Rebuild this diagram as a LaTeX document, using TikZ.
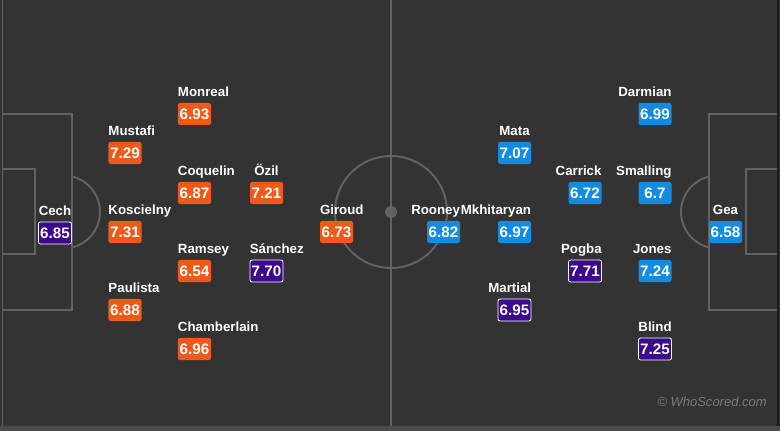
\documentclass[tikz,border=0pt]{standalone}
\usepackage{fontspec}
\usepackage{tikz}
\usetikzlibrary{positioning}
\newfontfamily\wsfont{Liberation Sans}
\definecolor{pitch}{RGB}{51,51,51}
\definecolor{strip}{RGB}{76,76,76}
\definecolor{chalk}{RGB}{98,98,98}
\definecolor{edgedark}{RGB}{28,28,28}
\definecolor{arsorange}{RGB}{240,90,25}
\definecolor{utdblue}{RGB}{18,140,226}
\definecolor{toppurple}{RGB}{60,8,140}
\definecolor{creditgray}{RGB}{122,122,130}
\newcommand{\ratingfont}{\wsfont\bfseries\fontsize{10.8}{12}\selectfont}
\newcommand{\namefont}{\wsfont\bfseries\fontsize{9.45}{11}\selectfont}
\newcommand{\creditfont}{\wsfont\itshape\fontsize{9.25}{11}\selectfont}
\tikzstyle{rating} = [rectangle, rounded corners=1.5pt, minimum width=0.825cm, minimum height=0.55cm, inner sep=0pt, text centered, text=white, font=\ratingfont]
\tikzstyle{ars} = [rating, fill=arsorange]
\tikzstyle{utd} = [rating, fill=utdblue]
\tikzstyle{best} = [rating, fill=toppurple, draw=white, line width=0.6pt]
\tikzstyle{pname} = [inner sep=0pt, text=white, font=\namefont]
\tikzstyle{chalkline} = [draw=chalk, line width=1.4pt]

\begin{document}
\begin{tikzpicture}[x=0.025cm, y=-0.025cm]
\useasboundingbox (0,0) rectangle (780,431);

% pitch
\fill[pitch] (0,0) rectangle (780,431);
\fill[strip] (0,426) rectangle (780,431);
\draw[chalkline] (2.5,0) -- (2.5,426);
\draw[chalkline] (391,0) -- (391,426);
\draw[chalkline] (391,212) circle[radius=1.4cm];
\fill[chalk] (391,212) circle[radius=0.15cm];
\draw[chalkline] (2.5,114) -- (72,114) -- (72,310) -- (2.5,310);
\draw[chalkline] (2.5,169) -- (35,169) -- (35,254) -- (2.5,254);
\draw[chalkline] (72,176.5) arc[start angle=76.5, end angle=-76.5, radius=0.9125cm];
\draw[chalkline] (778,114) -- (709,114) -- (709,310) -- (778,310);
\draw[chalkline] (778,169) -- (746,169) -- (746,254) -- (778,254);
\draw[chalkline] (709,176.5) arc[start angle=103.5, end angle=256.5, radius=0.9125cm];
\draw[edgedark, line width=1.1pt] (778,0) -- (778,426);

% Arsenal
\node(cech)[best] at (55,233) {6.85};
\node(mustafi)[ars] at (125,153) {7.29};
\node(koscielny)[ars] at (125,232) {7.31};
\node(paulista)[ars] at (125,310) {6.88};
\node(monreal)[ars] at (194.5,114) {6.93};
\node(coquelin)[ars] at (194.5,193) {6.87};
\node(ramsey)[ars] at (194.5,271) {6.54};
\node(chamberlain)[ars] at (194.5,349) {6.96};
\node(ozil)[ars] at (266.5,193) {7.21};
\node(sanchez)[best] at (266.5,271) {7.70};
\node(giroud)[ars] at (336.5,232) {6.73};

\node(cechname)[pname, above=0.16cm of cech.north, anchor=base] {Cech};
\node(mustafiname)[pname, above=0.16cm of mustafi.north west, anchor=base west] {Mustafi};
\node(koscielnyname)[pname, above=0.16cm of koscielny.north west, anchor=base west] {Koscielny};
\node(paulistaname)[pname, above=0.16cm of paulista.north west, anchor=base west] {Paulista};
\node(monrealname)[pname, above=0.16cm of monreal.north west, anchor=base west] {Monreal};
\node(coquelinname)[pname, above=0.16cm of coquelin.north west, anchor=base west] {Coquelin};
\node(ramseyname)[pname, above=0.16cm of ramsey.north west, anchor=base west] {Ramsey};
\node(chamberlainname)[pname, above=0.16cm of chamberlain.north west, anchor=base west] {Chamberlain};
\node(ozilname)[pname, above=0.16cm of ozil.north, anchor=base] {Özil};
\node(sanchezname)[pname, above=0.16cm of sanchez.north west, anchor=base west] {Sánchez};
\node(giroudname)[pname, above=0.16cm of giroud.north west, anchor=base west] {Giroud};

% Manchester United
\node(rooney)[utd] at (443.5,232) {6.82};
\node(mata)[utd] at (514.5,153) {7.07};
\node(mkhitaryan)[utd] at (514.5,232) {6.97};
\node(martial)[best] at (514.5,310) {6.95};
\node(carrick)[utd] at (585,193) {6.72};
\node(pogba)[best] at (585,271) {7.71};
\node(darmian)[utd] at (655,114) {6.99};
\node(smalling)[utd] at (655,193) {6.7};
\node(jones)[utd] at (655,271) {7.24};
\node(blind)[best] at (655,349) {7.25};
\node(gea)[utd] at (725.5,232) {6.58};

\node(rooneyname)[pname, above=0.16cm of rooney.north east, anchor=base east] {Rooney};
\node(mataname)[pname, above=0.16cm of mata.north, anchor=base] {Mata};
\node(mkhitaryanname)[pname, above=0.16cm of mkhitaryan.north east, anchor=base east] {Mkhitaryan};
\node(martialname)[pname, above=0.16cm of martial.north east, anchor=base east] {Martial};
\node(carrickname)[pname, above=0.16cm of carrick.north east, anchor=base east] {Carrick};
\node(pogbaname)[pname, above=0.16cm of pogba.north east, anchor=base east] {Pogba};
\node(darmianname)[pname, above=0.16cm of darmian.north east, anchor=base east] {Darmian};
\node(smallingname)[pname, above=0.16cm of smalling.north east, anchor=base east] {Smalling};
\node(jonesname)[pname, above=0.16cm of jones.north east, anchor=base east] {Jones};
\node(blindname)[pname, above=0.16cm of blind.north, anchor=base] {Blind};
\node(geaname)[pname, above=0.16cm of gea.north, anchor=base] {Gea};

\node(credit)[anchor=east, inner sep=0pt, text=creditgray, font=\creditfont] at (767,402) {\textcopyright{} WhoScored.com};
\end{tikzpicture}
\end{document}
